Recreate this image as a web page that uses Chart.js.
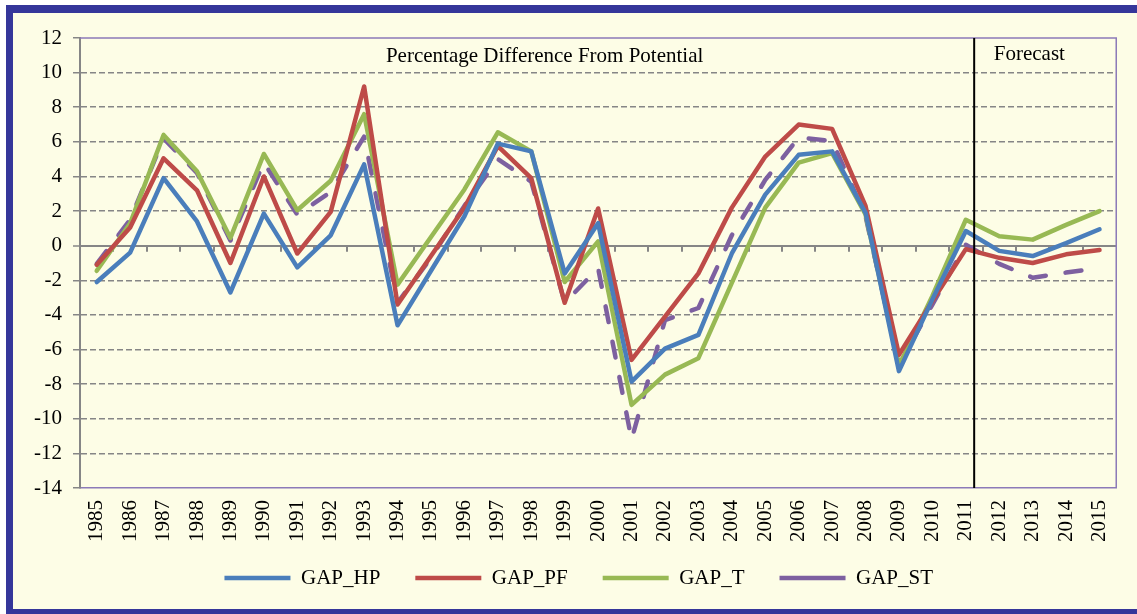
<!DOCTYPE html>
<html>
<head>
<meta charset="utf-8">
<title>Output gap</title>
<script src="https://cdn.jsdelivr.net/npm/chart.js@4.4.0/dist/chart.umd.min.js"></script>
<style>
    html, body { margin: 0; padding: 0; background: #ffffff; }
    canvas { display: block; }
</style>
</head>
<body>
<canvas id="gapChart" width="1137" height="614"></canvas>
<script>
const years = ['1985', '1986', '1987', '1988', '1989', '1990', '1991', '1992', '1993', '1994',
    '1995', '1996', '1997', '1998', '1999', '2000', '2001', '2002', '2003', '2004',
    '2005', '2006', '2007', '2008', '2009', '2010', '2011', '2012', '2013', '2014', '2015'];

const gapHP = [-2.1, -0.4, 3.9, 1.4, -2.7, 1.85, -1.25, 0.6, 4.7, -4.6,
    -1.45, 1.7, 5.9, 5.45, -1.6, 1.3, -7.85, -5.95, -5.15, -0.45,
    2.95, 5.25, 5.45, 1.9, -7.25, -3.1, 0.85, -0.3, -0.6, 0.15, 0.95];

const gapPF = [-1.1, 1.05, 5.05, 3.2, -1.0, 4.0, -0.45, 1.95, 9.2, -3.4,
    -0.6, 2.2, 5.75, 3.9, -3.3, 2.15, -6.6, -4.1, -1.6, 2.2,
    5.15, 7.0, 6.75, 2.3, -6.3, -3.2, -0.2, -0.7, -1.0, -0.5, -0.25];

const gapT = [-1.45, 1.3, 6.4, 4.3, 0.45, 5.3, 2.05, 3.75, 7.6, -2.25,
    0.5, 3.25, 6.55, 5.45, -2.1, 0.25, -9.2, -7.45, -6.5, -2.15,
    2.2, 4.8, 5.35, 1.8, -6.95, -2.9, 1.5, 0.55, 0.35, 1.2, 2.0];

const gapST = [-1.05, 1.5, 6.2, 4.2, 0.3, 4.8, 1.8, 3.1, 6.3, -3.3,
    -0.7, 2.3, 5.0, 3.7, -3.3, -1.3, -11.2, -4.3, -3.6, 0.6,
    3.8, 6.25, 6.05, 1.7, -6.9, -3.4, 0.05, -1.05, -1.85, -1.55, -1.3];

const yTicks = { min: -14, max: 12, step: 2 };
const chartTitle = 'Percentage Difference From Potential';
const forecastLabel = 'Forecast';
const forecastAfter = 26.25;   // just past 2011

const serif = "'Liberation Serif', 'Times New Roman', serif";
const gridGray = '#868686';
const framePurple = '#8C7AB8';

// background, frame, zero-line ticks, forecast marker and notes
const decorPlugin = {
    id: 'decor',
    beforeDraw(chart) {
        const c = chart.ctx;
        c.save();
        c.fillStyle = '#ffffff';
        c.fillRect(0, 0, chart.width, chart.height);
        c.fillStyle = '#35369A';
        c.fillRect(6, 5, chart.width - 6, chart.height - 5);
        c.fillStyle = '#FDFDE6';
        c.fillRect(13, 13, chart.width - 13, chart.height - 18);
        c.restore();
    },
    beforeDatasetsDraw(chart) {
        const c = chart.ctx;
        const area = chart.chartArea;
        const x = chart.scales.x;
        const y0 = chart.scales.y.getPixelForValue(0);
        c.save();
        c.strokeStyle = gridGray;
        c.lineWidth = 2;
        c.beginPath();
        for (let k = 1; k < years.length; k++) {
            const px = Math.round(x.getPixelForValue(k - 0.5));
            c.moveTo(px, y0);
            c.lineTo(px, y0 + 6);
        }
        c.stroke();
        c.strokeStyle = framePurple;
        c.lineWidth = 1.5;
        c.beginPath();
        c.moveTo(area.left, area.top);
        c.lineTo(area.right, area.top);
        c.lineTo(area.right, area.bottom);
        c.stroke();
        c.restore();
    },
    afterDatasetsDraw(chart) {
        const c = chart.ctx;
        const area = chart.chartArea;
        const x = chart.scales.x;
        const y = chart.scales.y;
        const fx = x.getPixelForValue(forecastAfter);
        c.save();
        c.strokeStyle = '#000000';
        c.lineWidth = 2;
        c.beginPath();
        c.moveTo(fx, area.top);
        c.lineTo(fx, area.bottom);
        c.stroke();
        c.fillStyle = '#000000';
        c.font = '21px ' + serif;
        c.textAlign = 'center';
        c.textBaseline = 'alphabetic';
        c.fillText(chartTitle, x.getPixelForValue(13.4), y.getPixelForValue(yTicks.max) + 24);
        c.fillText(forecastLabel, x.getPixelForValue(27.9), y.getPixelForValue(yTicks.max) + 21.5);
        c.restore();
    }
};

function makeSeries(label, data, color, dash) {
    return {
        label: label,
        data: data,
        borderColor: color,
        backgroundColor: color,
        borderWidth: 4.5,
        borderDash: dash || [],
        borderCapStyle: 'round',
        borderJoinStyle: 'round',
        pointRadius: 0,
        pointHoverRadius: 0,
        tension: 0,
        fill: false
    };
}

const ctx = document.getElementById('gapChart').getContext('2d');
new Chart(ctx, {
    type: 'line',
    data: {
        labels: years,
        datasets: [
            makeSeries('GAP_HP', gapHP, '#4A7EBB'),
            makeSeries('GAP_PF', gapPF, '#BE4B48'),
            makeSeries('GAP_T', gapT, '#98B954'),
            makeSeries('GAP_ST', gapST, '#7D60A0', [16, 20])
        ]
    },
    options: {
        responsive: false,
        animation: false,
        events: [],
        layout: { padding: { left: 31, right: 0, top: 38, bottom: 15.5 } },
        plugins: {
            title: { display: false },
            tooltip: { enabled: false },
            legend: {
                position: 'bottom',
                labels: {
                    usePointStyle: true,
                    pointStyle: 'line',
                    pointStyleWidth: 66,
                    padding: 24.5,
                    color: '#000000',
                    font: { family: serif, size: 21 },
                    // en space after the text keeps the wide gap between entries
                    generateLabels: function (chart) {
                        const items = Chart.defaults.plugins.legend.labels.generateLabels(chart);
                        items.forEach(item => { item.text = item.text + '\u2002'; });
                        return items;
                    }
                }
            }
        },
        scales: {
            x: {
                offset: true,
                grid: { display: false, drawTicks: false },
                border: { display: true, color: framePurple, width: 1.5 },
                ticks: {
                    autoSkip: false,
                    minRotation: 90,
                    maxRotation: 90,
                    padding: 12,
                    color: '#000000',
                    font: { family: serif, size: 21 }
                },
                afterFit: function (scale) { scale.height = 55; }
            },
            y: {
                min: yTicks.min,
                max: yTicks.max,
                grid: {
                    color: function (c) {
                        const v = c.tick ? c.tick.value : null;
                        return (v === yTicks.max || v === yTicks.min) ? 'rgba(0,0,0,0)' : gridGray;
                    },
                    lineWidth: function (c) { return c.tick && c.tick.value === 0 ? 2 : 1.5; },
                    tickColor: gridGray,
                    tickLength: 7,
                    tickWidth: 1.5
                },
                border: {
                    display: true,
                    color: gridGray,
                    width: 2,
                    dash: function (c) { return (c.tick && c.tick.value !== 0) ? [6, 3] : []; }
                },
                ticks: {
                    stepSize: yTicks.step,
                    padding: 11,
                    color: '#000000',
                    font: { family: serif, size: 21 }
                },
                afterFit: function (scale) { scale.width = 49; }
            },
            // empty right-hand strip so the plot ends where the original does
            yRight: {
                type: 'linear',
                position: 'right',
                grid: { display: false },
                border: { display: false },
                ticks: { display: false },
                afterFit: function (scale) { scale.width = 17; }
            }
        }
    },
    plugins: [decorPlugin]
});
</script>
</body>
</html>
